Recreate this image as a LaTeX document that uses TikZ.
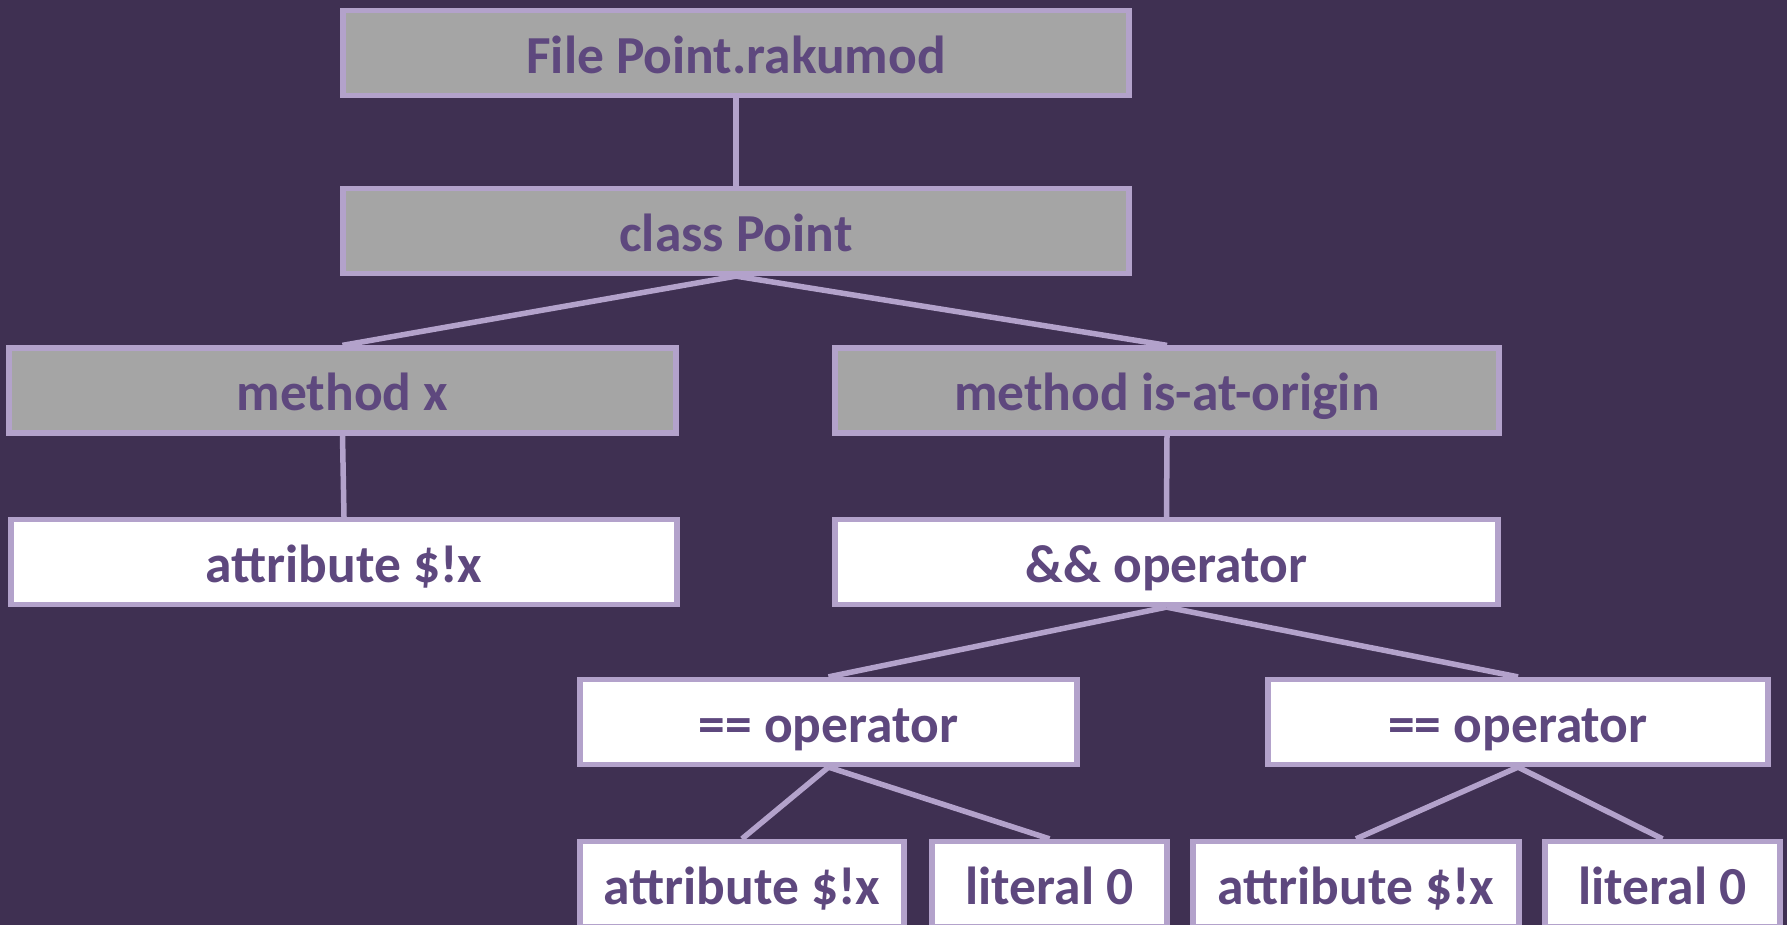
\documentclass[tikz,border=0pt]{standalone}
\usepackage{fontspec}
\setmainfont{Carlito}
\definecolor{bg}{HTML}{3F3052}
\definecolor{edge}{HTML}{B3A2CB}
\definecolor{grayfill}{HTML}{A5A5A5}
\definecolor{txt}{HTML}{5E487E}
\begin{document}
\begin{tikzpicture}[x=0.4pt,y=-0.4pt,
  base/.style={draw=edge,line width=2.1pt,rectangle,inner sep=0pt,
    minimum height=34pt,text height=16.3pt,text depth=0pt,text=txt,
    font=\fontsize{21.4}{25}\selectfont\bfseries},
  gbox/.style={base,fill=grayfill},
  wbox/.style={base,fill=white},
  link/.style={draw=edge,line width=2.2pt}]
\fill[bg] (0,0) rectangle (1787,925);
\useasboundingbox (0,0) rectangle (1787,925);
\clip (0,0) rectangle (1787,925);
\node[gbox,minimum width=314.4pt] (file) at (736,53) {File Point.rakumod};
\node[gbox,minimum width=314.4pt] (cls) at (736,231) {class Point};
\node[gbox,minimum width=266.8pt] (mx) at (342.5,390.5) {method x};
\node[gbox,minimum width=265.6pt] (mo) at (1167,390.5) {method is-at-origin};
\node[wbox,minimum width=266.4pt] (ax) at (344,562) {attribute \$!x};
\node[wbox,minimum width=265.2pt] (and) at (1166.5,562) {\&\& operator};
\node[wbox,minimum width=198.8pt] (eq1) at (828.5,722) {== operator};
\node[wbox,minimum width=200pt] (eq2) at (1518,722) {== operator};
\node[wbox,minimum width=129.6pt] (a1) at (742,884) {attribute \$!x};
\node[wbox,minimum width=94pt] (l1) at (1049.5,884) {literal 0};
\node[wbox,minimum width=130.4pt] (a2) at (1356,884) {attribute \$!x};
\node[wbox,minimum width=94pt] (l2) at (1662.5,884) {literal 0};
\draw[link] (file.south) -- (cls.north);
\draw[link] (cls.south) -- (mx.north);
\draw[link] (cls.south) -- (mo.north);
\draw[link] (mx.south) -- (ax.north);
\draw[link] (mo.south) -- (and.north);
\draw[link] (and.south) -- (eq1.north);
\draw[link] (and.south) -- (eq2.north);
\draw[link] (eq1.south) -- (a1.north);
\draw[link] (eq1.south) -- (l1.north);
\draw[link] (eq2.south) -- (a2.north);
\draw[link] (eq2.south) -- (l2.north);
\end{tikzpicture}
\end{document}
